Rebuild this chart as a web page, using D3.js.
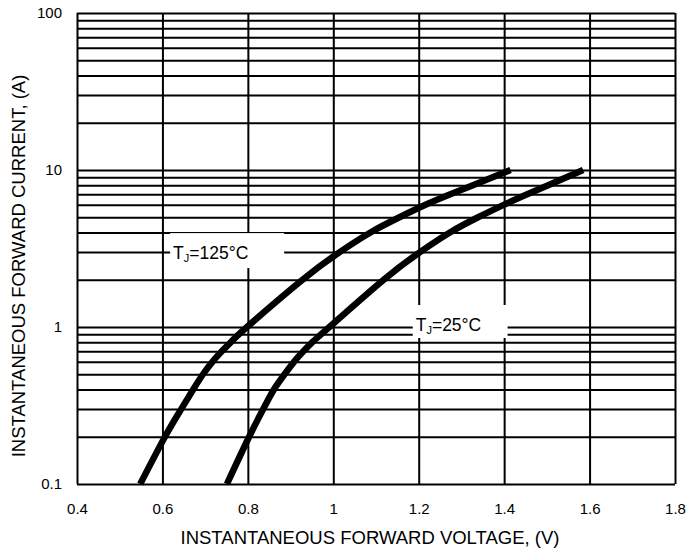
<!DOCTYPE html>
<html>
<head>
<meta charset="utf-8">
<script src="https://cdn.jsdelivr.net/npm/d3@7"></script>
<style>
  body { margin: 0; background: #fff; }
  svg { display: block; font-family: "Liberation Sans", Arial, sans-serif; }
</style>
</head>
<body>
<svg id="canvas" width="687" height="552"></svg>
<script>
(function () {
    var current = [0.1, 0.2, 0.3, 0.4, 0.5, 0.6, 0.7, 0.8, 1, 2, 3, 4, 5, 6, 7, 8, 9, 10];
    // forward voltage (V), Tj = 125 C
    var volt125 = [0.548, 0.606, 0.644, 0.672, 0.695, 0.717, 0.739, 0.760, 0.798, 0.928, 1.015, 1.087, 1.155, 1.216, 1.274, 1.327, 1.373, 1.415];
    // forward voltage (V), Tj = 25 C
    var volt25 = [0.751, 0.803, 0.836, 0.861, 0.886, 0.908, 0.930, 0.951, 0.991, 1.118, 1.203, 1.273, 1.339, 1.399, 1.454, 1.503, 1.546, 1.585];

    var xTicks = [0.4, 0.6, 0.8, 1, 1.2, 1.4, 1.6, 1.8];
    var yTicks = [0.1, 1, 10, 100];

    var margin = { top: 13, right: 12, bottom: 68, left: 77 };
    var width = 687 - margin.left - margin.right,
        height = 552 - margin.top - margin.bottom;

    var svg = d3.select("#canvas");
    var chart = svg.append("g")
        .attr("transform", `translate(${margin.left}, ${margin.top})`);

    var x = d3.scaleLinear().domain([0.4, 1.8]).range([0, width]);
    var y = d3.scaleLog().domain([0.1, 100]).range([height, 0]);

    // minor grid values 0.1..0.9, 1..9, 10..90, 100
    var yGrid = [];
    [0.1, 1, 10].forEach(function (d) {
        for (var k = 1; k < 10; k++) yGrid.push(+(d * k).toPrecision(3));
    });
    yGrid.push(100);

    // grid
    chart.append("g")
        .attr("class", "grid")
        .call(d3.axisLeft(y).tickValues(yGrid).tickSize(-width).tickFormat(""))
        .call((g) => g.select(".domain").remove());

    chart.append("g")
        .attr("class", "grid")
        .attr("transform", "translate(0," + height + ")")
        .call(d3.axisBottom(x).tickValues(xTicks).tickSize(-height).tickFormat(""))
        .call((g) => g.select(".domain").remove());

    chart.selectAll(".grid line")
        .attr("stroke", "#000")
        .attr("stroke-width", 2);

    // curves
    var line = d3.line()
        .x(function (d) { return x(d[0]); })
        .y(function (d) { return y(d[1]); })
        .curve(d3.curveNatural);

    [volt125, volt25].forEach(function (v) {
        chart.append("path")
            .datum(v.map(function (d, i) { return [d, current[i]]; }))
            .attr("d", line)
            .attr("fill", "none")
            .attr("stroke", "#000")
            .attr("stroke-width", 6.5)
            .attr("stroke-linecap", "butt");
    });

    // labels with white boxes
    function label(v0, v1, i, top, h, name) {
        chart.append("rect")
            .attr("x", x(v0))
            .attr("y", y(i) - top)
            .attr("width", x(v1) - x(v0))
            .attr("height", h)
            .attr("fill", "#fff");
        var t = chart.append("text")
            .attr("x", x(v0) + 3)
            .attr("y", y(i) - top + 26)
            .attr("font-size", 17.5)
            .attr("fill", "#000");
        t.append("tspan").text("T");
        t.append("tspan").attr("font-size", 11).attr("dy", 3).text("J");
        t.append("tspan").attr("dy", -3).text(name);
    }
    label(0.618, 0.885, 3, 19, 35, "=125°C");
    label(1.186, 1.408, 1, 22, 33, "=25°C");

    // axes
    chart.append("g")
        .attr("transform", "translate(0," + height + ")")
        .call(d3.axisBottom(x).tickValues(xTicks).tickSize(0).tickPadding(19)
            .tickFormat(d3.format("~g")))
        .call((g) => g.select(".domain").remove())
        .selectAll("text")
        .attr("font-size", 15)
        .attr("font-family", "Liberation Sans, Arial, sans-serif");

    chart.append("g")
        .call(d3.axisLeft(y).tickValues(yTicks).tickSize(0).tickPadding(15)
            .tickFormat(d3.format("~g")))
        .call((g) => g.select(".domain").remove())
        .selectAll("text")
        .attr("font-size", 15)
        .attr("font-family", "Liberation Sans, Arial, sans-serif");

    // titles
    svg.append("text")
        .attr("x", 370)
        .attr("y", 544)
        .attr("text-anchor", "middle")
        .attr("font-size", 18.5)
        .text("INSTANTANEOUS FORWARD VOLTAGE, (V)");

    svg.append("text")
        .attr("transform", "translate(25, 266) rotate(-90)")
        .attr("text-anchor", "middle")
        .attr("font-size", 18.5)
        .text("INSTANTANEOUS FORWARD CURRENT, (A)");
})();
</script>
</body>
</html>
